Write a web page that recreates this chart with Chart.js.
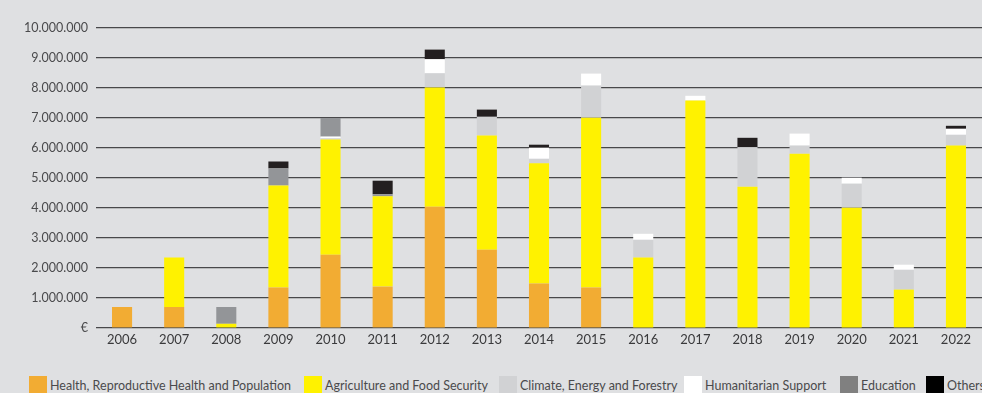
<!DOCTYPE html>
<html>
<head>
<meta charset="utf-8">
<script src="https://cdn.jsdelivr.net/npm/chart.js@4"></script>
<style>
  html, body { margin: 0; padding: 0; background: #dfe0e2; }
  #wrap { position: relative; width: 982px; height: 393px; overflow: hidden; background: #dfe0e2; }
  #c { position: absolute; left: 0; top: 0; }
  #legend { position: absolute; left: 0; top: 376px; width: 982px; height: 20px; font-family: Lato, "Open Sans", sans-serif; font-size: 12.5px; color: #4a4a4c; white-space: nowrap; }
  .item { position: absolute; top: 0; display: flex; align-items: flex-start; }
  .box { width: 18px; height: 18px; margin-right: 3px; }
  .lbl { line-height: 15px; padding-top: 2px; }
</style>
</head>
<body>
<div id="wrap">
  <canvas id="c" width="982" height="360"></canvas>
  <div id="legend"></div>
</div>
<script>
const years = ["2006","2007","2008","2009","2010","2011","2012","2013","2014","2015","2016","2017","2018","2019","2020","2021","2022"];
const seriesNames = ["Health, Reproductive Health and Population","Agriculture and Food Security","Climate, Energy and Forestry","Humanitarian Support","Education","Others"];
const health       = [700000, 700000, 0, 1350000, 2440000, 1380000, 4040000, 2610000, 1480000, 1350000, 0, 0, 0, 0, 0, 0, 0];
const agriculture  = [0, 1650000, 140000, 3400000, 3840000, 3010000, 3980000, 3810000, 4010000, 5660000, 2350000, 7580000, 4710000, 5810000, 4010000, 1280000, 6080000];
const climate      = [0, 0, 0, 0, 40000, 0, 470000, 620000, 150000, 1070000, 590000, 0, 1320000, 270000, 800000, 660000, 360000];
const humanitarian = [0, 0, 0, 0, 60000, 0, 470000, 0, 370000, 400000, 200000, 160000, 0, 400000, 200000, 170000, 200000];
const education    = [0, 0, 560000, 570000, 620000, 70000, 0, 0, 0, 0, 0, 0, 0, 0, 0, 0, 0];
const others       = [0, 0, 0, 230000, 0, 450000, 320000, 240000, 100000, 0, 0, 0, 310000, 0, 0, 0, 100000];
const yTickLabels  = ["€","1.000.000","2.000.000","3.000.000","4.000.000","5.000.000","6.000.000","7.000.000","8.000.000","9.000.000","10.000.000"];

const barColors    = ["#f2ac33","#fff200","#d1d2d4","#ffffff","#939598","#231f20"];
const legendColors = ["#f2ac33","#fff200","#d1d2d4","#ffffff","#808080","#000000"];
const legendX      = [29, 304, 499, 684, 840, 926];

const seriesData = [health, agriculture, climate, humanitarian, education, others];

const datasets = seriesData.map((d, i) => ({
  label: seriesNames[i],
  data: d,
  backgroundColor: barColors[i],
  borderWidth: 0,
  barPercentage: 0.77,
  categoryPercentage: 0.5
}));

new Chart(document.getElementById('c'), {
  type: 'bar',
  data: { labels: years, datasets },
  options: {
    responsive: false,
    animation: false,
    layout: { padding: { top: 28, right: 0, left: 0, bottom: 0 } },
    plugins: { legend: { display: false }, tooltip: { enabled: false } },
    scales: {
      x: {
        stacked: true,
        grid: { display: false, drawTicks: false },
        border: { display: false },
        ticks: { color: '#3a3a3c', font: { family: 'Lato', size: 13 }, padding: 4 },
        afterFit: (s) => { s.height = 32; }
      },
      y: {
        stacked: true,
        min: 0, max: 10000000,
        grid: { color: '#48484a', lineWidth: 1.2, drawTicks: false },
        border: { display: false },
        ticks: {
          stepSize: 1000000,
          color: '#4a4a4c',
          font: { family: 'Lato', size: 12.5 },
          padding: 8,
          callback: (v, i) => yTickLabels[Math.round(v / 1000000)]
        },
        afterFit: (s) => { s.width = 96; }
      }
    }
  }
});

const leg = document.getElementById('legend');
seriesNames.forEach((n, i) => {
  const it = document.createElement('div');
  it.className = 'item';
  it.style.left = legendX[i] + 'px';
  const b = document.createElement('div');
  b.className = 'box';
  b.style.background = legendColors[i];
  const t = document.createElement('span');
  t.className = 'lbl';
  t.textContent = n;
  it.appendChild(b); it.appendChild(t);
  leg.appendChild(it);
});
</script>
</body>
</html>
